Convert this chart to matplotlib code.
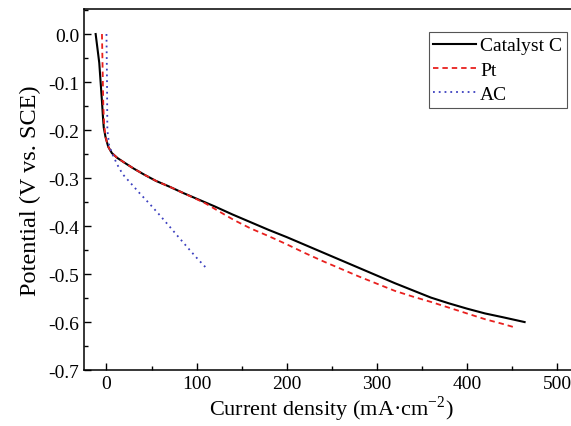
import matplotlib
matplotlib.use("Agg")
import matplotlib.pyplot as plt
from matplotlib.ticker import MultipleLocator, FormatStrFormatter

plt.rcParams['font.family'] = ['Liberation Serif', 'DejaVu Serif']
plt.rcParams['mathtext.fontset'] = 'custom'
plt.rcParams['mathtext.rm'] = 'Liberation Serif'
plt.rcParams['axes.unicode_minus'] = False

# Catalyst C
cat_x = [-12, -10, -8, -6.5, -5, -4, -3, -1, 2, 6, 12, 20, 30, 42, 55, 70, 85, 100, 120, 140,
         160, 180, 200, 220, 240, 260, 280, 300, 320, 340, 360, 380, 400, 420, 440, 464]
cat_y = [0.0, -0.03, -0.06, -0.10, -0.14, -0.17, -0.195, -0.215, -0.235, -0.248, -0.258, -0.268,
         -0.280, -0.293, -0.306, -0.318, -0.331, -0.343, -0.359, -0.376, -0.392, -0.408, -0.423,
         -0.439, -0.455, -0.471, -0.487, -0.503, -0.519, -0.534, -0.549, -0.561, -0.572, -0.582,
         -0.590, -0.600]
# Pt
pt_x = [-5, -4.5, -4, -3.5, -2.5, -1, 2, 6, 12, 20, 30, 42, 55, 70, 85, 100, 110, 120, 130, 142,
        160, 180, 200, 220, 240, 260, 280, 300, 320, 340, 360, 380, 400, 420, 440, 451]
pt_y = [0.0, -0.05, -0.10, -0.15, -0.19, -0.215, -0.235, -0.248, -0.258, -0.268, -0.280, -0.293,
        -0.306, -0.318, -0.331, -0.344, -0.353, -0.364, -0.375, -0.388, -0.405, -0.421, -0.438,
        -0.456, -0.473, -0.489, -0.505, -0.520, -0.535, -0.547, -0.558, -0.570, -0.582, -0.594,
        -0.604, -0.610]
# AC
ac_x = [0, 0.3, 0.6, 0.8, 1, 3, 7, 12, 18, 28, 37, 48, 59, 70, 80, 92, 100, 106, 112]
ac_y = [0.0, -0.05, -0.10, -0.15, -0.20, -0.232, -0.252, -0.272, -0.292, -0.313, -0.332, -0.354,
        -0.377, -0.401, -0.423, -0.449, -0.466, -0.478, -0.490]

labels = ["Catalyst C", "Pt", "AC"]

fig = plt.figure(figsize=(5.71, 4.27), dpi=100)
ax = fig.add_axes([0.147, 0.131, 0.868, 0.8454])

ax.plot(cat_x, cat_y, color='black', lw=1.5, label=labels[0])
ax.plot(pt_x, pt_y, color='#e8201e', lw=1.3, linestyle=(0, (3, 2.2)), label=labels[1])
ax.plot(ac_x, ac_y, color='#3b3fbf', lw=1.3, linestyle=(0, (1, 2.2)), label=labels[2])

ax.set_xlim(-25, 525)
ax.set_ylim(-0.7, 0.052)
ax.xaxis.set_major_locator(MultipleLocator(100))
ax.xaxis.set_minor_locator(MultipleLocator(50))
ax.yaxis.set_major_locator(MultipleLocator(0.1))
ax.yaxis.set_minor_locator(MultipleLocator(0.05))
ax.yaxis.set_major_formatter(FormatStrFormatter('%.1f'))
ax.tick_params(which='both', direction='in', top=False, right=False, labelsize=14)
ax.tick_params(which='major', length=5, width=1)
ax.tick_params(which='minor', length=3, width=1)
for s in ax.spines.values():
    s.set_linewidth(1.1)

ax.set_xlabel("Current density (mA·cm$^{\\mathregular{-2}}$)", fontsize=16, labelpad=1)
ax.set_ylabel("Potential (V vs. SCE)", fontsize=17.5, labelpad=5)

leg = fig.legend(loc='upper right', bbox_to_anchor=(0.993, 0.923), fontsize=14,
                 frameon=True, fancybox=False, edgecolor='#555555', framealpha=1,
                 handlelength=2.2, handletextpad=0.2, labelspacing=0.35,
                 borderpad=0.25, borderaxespad=0)
leg.get_frame().set_linewidth(0.8)

fig.savefig("out.png", dpi=100)
